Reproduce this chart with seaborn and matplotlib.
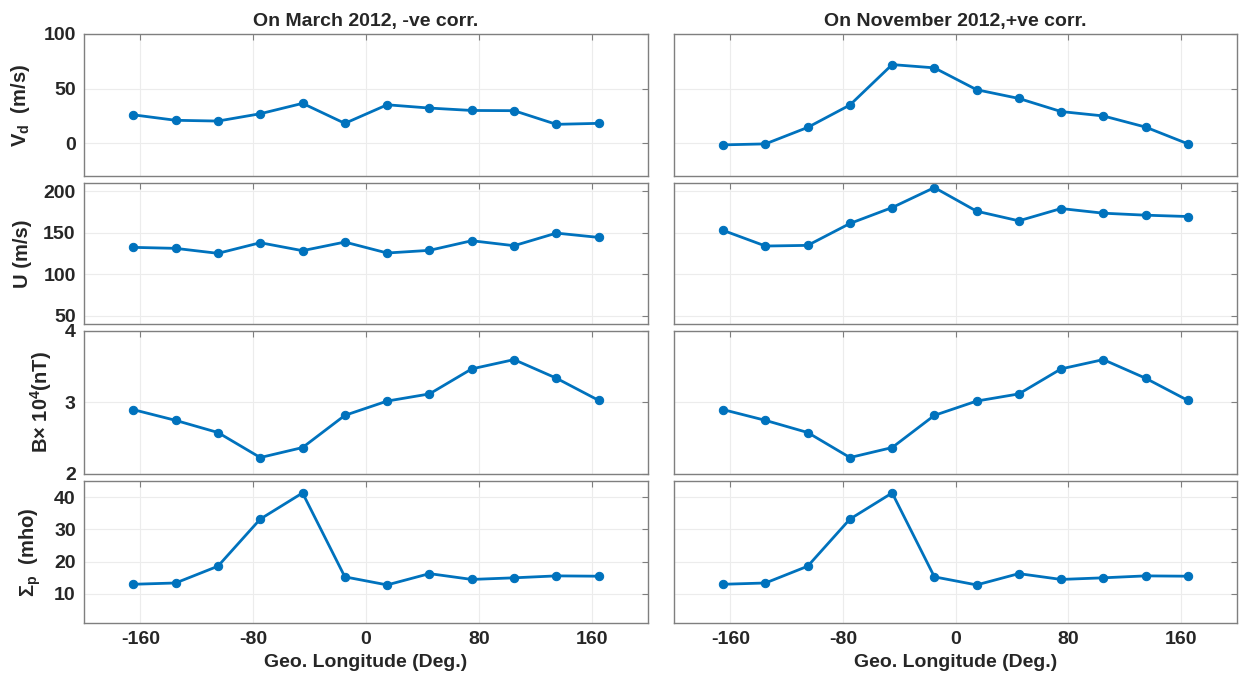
import numpy as np
import pandas as pd
import matplotlib
matplotlib.use("Agg")
import matplotlib.pyplot as plt
import seaborn as sns

# ---- data ----
longitude = [-165, -135, -105, -75, -45, -15, 15, 45, 75, 105, 135, 165]

vd_march = [26, 21, 20.3, 27, 36.5, 18.2, 35.2, 32.2, 30, 29.8, 17.3, 18.2]
vd_nov = [-1.5, -0.6, 14.5, 35, 72, 69, 49, 41, 29, 25, 14.8, -0.5]

u_march = [132.4, 131.2, 125.2, 138, 128.4, 138.8, 125.6, 128.8, 140.4, 134.4, 149.6, 144.4]
u_nov = [152.8, 134, 134.8, 161.2, 180.4, 204.5, 176, 164.4, 179.2, 173.6, 171.2, 169.6]

b_march = [2.90, 2.75, 2.58, 2.23, 2.37, 2.82, 3.02, 3.12, 3.47, 3.60, 3.34, 3.03]
b_nov = [2.90, 2.75, 2.58, 2.23, 2.37, 2.82, 3.02, 3.12, 3.47, 3.60, 3.34, 3.03]

sig_march = [13.0, 13.4, 18.6, 33.2, 41.3, 15.3, 12.8, 16.3, 14.5, 15.0, 15.6, 15.5]
sig_nov = [13.0, 13.4, 18.6, 33.2, 41.3, 15.3, 12.8, 16.3, 14.5, 15.0, 15.6, 15.5]

titles = ["On March 2012, -ve corr.", "On November 2012,+ve corr."]
ylabels = [r"V$_{d}$  (m/s)", "U (m/s)", r"B$\times$ 10$^{4}$(nT)", r"$\Sigma_{p}$  (mho)"]
xticks = [-160, -80, 0, 80, 160]
yticks = [[0, 50, 100], [50, 100, 150, 200], [2, 3, 4], [10, 20, 30, 40]]
ylims = [(-30, 100), (40, 210), (2, 4), (1, 45)]
xlabel = "Geo. Longitude (Deg.)"

series = [[vd_march, vd_nov], [u_march, u_nov], [b_march, b_nov], [sig_march, sig_nov]]

# ---- style ----
sns.set_theme(style="white")
plt.rcParams["font.family"] = ["Liberation Sans", "DejaVu Sans"]
plt.rcParams["font.weight"] = "bold"
plt.rcParams["axes.unicode_minus"] = False
plt.rcParams["mathtext.fontset"] = "custom"
plt.rcParams["mathtext.rm"] = "Liberation Sans:bold"
plt.rcParams["mathtext.bf"] = "Liberation Sans:bold"
plt.rcParams["mathtext.it"] = "Liberation Sans:bold"
plt.rcParams["mathtext.default"] = "bf"

fig = plt.figure(figsize=(12.4, 6.79), dpi=100)
W, H = 1240, 679
cols = [(84, 564), (674, 563)]
rows = [(34, 176), (183, 324), (331, 474), (481, 623)]

blue = "#0072BD"
edge = "#7f7f7f"
text_c = "#262626"

for r, (top, bot) in enumerate(rows):
    for c, (x0, w) in enumerate(cols):
        ax = fig.add_axes([x0 / W, 1 - bot / H, w / W, (bot - top) / H])
        df = pd.DataFrame({"lon": longitude, "val": series[r][c]})
        sns.lineplot(data=df, x="lon", y="val", ax=ax, color=blue, linewidth=2,
                     marker="o", markersize=6, markeredgecolor=blue, markerfacecolor=blue)
        ax.set_xlim(-200, 200)
        ax.set_ylim(*ylims[r])
        ax.set_xticks(xticks)
        ax.set_yticks(yticks[r])
        ax.grid(True, color="#ececec", linewidth=0.8)
        ax.set_axisbelow(True)
        for s in ax.spines.values():
            s.set_color(edge)
            s.set_linewidth(1.0)
        ax.tick_params(direction="in", length=4, width=0.8, color=edge,
                       top=True, right=True, labelsize=14, labelcolor=text_c, pad=6)
        ax.set_xlabel("")
        ax.set_ylabel("")
        if r < 3:
            ax.tick_params(labelbottom=False)
        else:
            ax.set_xlabel(xlabel, fontsize=14, fontweight="bold", color=text_c, labelpad=4)
        if c == 1:
            ax.tick_params(labelleft=False)
        else:
            ax.set_ylabel(ylabels[r], fontsize=14.5, fontweight="bold", color=text_c, labelpad=8)
        if r == 0:
            ax.set_title(titles[c], fontsize=14, fontweight="bold", color=text_c, pad=6)
        for lab in ax.get_xticklabels() + ax.get_yticklabels():
            lab.set_fontweight("bold")

fig.savefig("out.png", dpi=100)
